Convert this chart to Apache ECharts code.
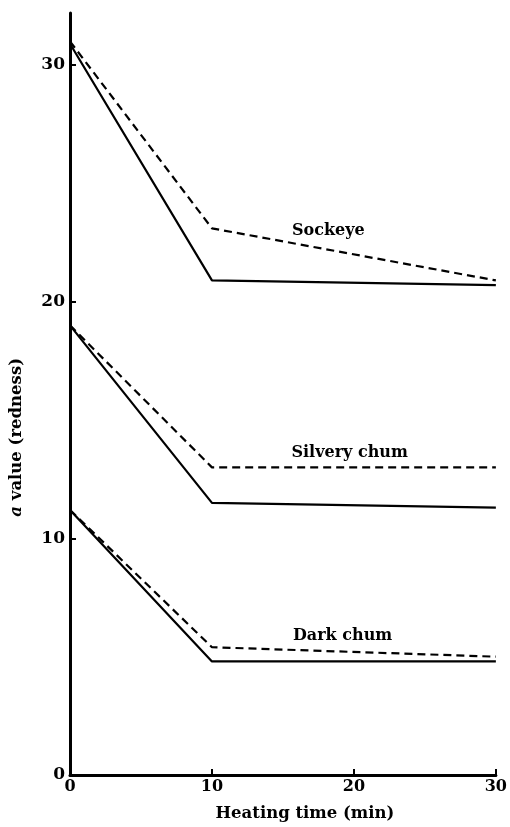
<!DOCTYPE html>
<html>
<head>
<meta charset="utf-8">
<script src="https://cdn.jsdelivr.net/npm/echarts@6/dist/echarts.min.js"></script>
<style>html,body{margin:0;padding:0;background:#fff;}#c{width:510px;height:827px;}</style>
</head>
<body>
<div id="c"></div>
<script>
const times = [0, 10, 30];
const sockeyeSolid = [30.9, 20.9, 20.7];
const sockeyeDashed = [31.0, 23.1, 20.9];
const silverySolid = [19.0, 11.5, 11.3];
const silveryDashed = [19.0, 13.0, 13.0];
const darkSolid = [11.2, 4.8, 4.8];
const darkDashed = [11.2, 5.4, 5.0];
const xTicks = [0, 10, 20, 30];
const yTicks = [0, 10, 20, 30];
const seriesLabels = [
  {name: 'Sockeye', x: 18.2, y: 23.0},
  {name: 'Silvery chum', x: 19.7, y: 13.6},
  {name: 'Dark chum', x: 19.2, y: 5.9}
];

const font = '"DejaVu Serif", "Liberation Serif", serif';
const chart = echarts.init(document.getElementById('c'));
function pts(arr) { return times.map((t, i) => [t, arr[i]]); }
function line(arr, dashed) {
  return {
    type: 'line', data: pts(arr), symbol: 'none', silent: true,
    lineStyle: {color: '#000', width: 2.2, type: dashed ? [8, 5] : 'solid'}
  };
}
const series = [
  line(sockeyeSolid, false), line(sockeyeDashed, true),
  line(silverySolid, false), line(silveryDashed, true),
  line(darkSolid, false), line(darkDashed, true),
  {
    type: 'scatter', symbolSize: 0, silent: true,
    itemStyle: {opacity: 1, color: '#000'},
    data: seriesLabels.map(l => ({value: [l.x, l.y], name: l.name})),
    label: {show: true, position: 'inside', formatter: p => p.name, opacity: 1,
      fontFamily: font, fontWeight: 'bold', fontSize: 16, color: '#000', textBorderWidth: 0}
  }
];
chart.setOption({
  animation: false,
  grid: {left: 70, right: 9, top: 13, bottom: 49},
  graphic: [{
    type: 'text', left: 8, top: 358, rotation: Math.PI / 2,
    style: {
      text: '{i|a} value (redness)', x: 0, y: 0,
      font: 'bold 16.5px ' + font, fill: '#000',
      rich: {i: {fontFamily: font, fontStyle: 'italic', fontWeight: 'bold', fontSize: 16.5, fill: '#000'}}
    }
  }],
  xAxis: {
    type: 'value', min: 0, max: 30, interval: 10,
    name: 'Heating time (min)', nameLocation: 'middle', nameGap: 30,
    nameTextStyle: {fontFamily: font, fontWeight: 'bold', fontSize: 16.5, color: '#000', padding: [0, 0, 0, 44]},
    axisLine: {show: true, lineStyle: {color: '#000', width: 3}},
    axisTick: {show: true, inside: true, length: 6, lineStyle: {color: '#000', width: 2}, customValues: [10, 20, 30]},
    axisLabel: {fontFamily: font, fontWeight: 'bold', fontSize: 16, color: '#000', margin: 4, customValues: xTicks},
    splitLine: {show: false}
  },
  yAxis: {
    type: 'value', min: 0, max: 32.2,
    axisLine: {show: true, lineStyle: {color: '#000', width: 3}},
    axisTick: {show: true, inside: true, length: 6, lineStyle: {color: '#000', width: 2}, customValues: [10, 20, 30]},
    axisLabel: {fontFamily: font, fontWeight: 'bold', fontSize: 17, color: '#000', margin: 5, customValues: yTicks},
    splitLine: {show: false}
  },
  series: series
});
</script>
</body>
</html>
